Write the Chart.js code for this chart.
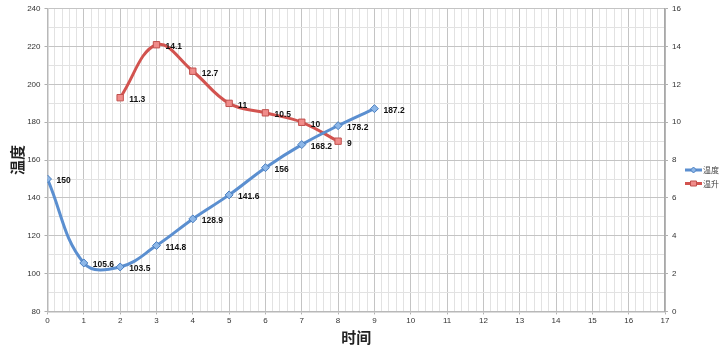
<!DOCTYPE html>
<html>
<head>
<meta charset="utf-8">
<script src="https://cdn.jsdelivr.net/npm/chart.js@4/dist/chart.umd.min.js"></script>
<style>
html,body{margin:0;padding:0;background:#fff;}
#wrap{width:727px;height:355px;}
</style>
</head>
<body>
<div id="wrap"><canvas id="c" width="727" height="355"></canvas></div>
<script>
const tempX = [0, 1, 2, 3, 4, 5, 6, 7, 8, 9];
const tempValues = [150, 105.6, 103.5, 114.8, 128.9, 141.6, 156, 168.2, 178.2, 187.2];
const riseX = [2, 3, 4, 5, 6, 7, 8];
const riseValues = [11.3, 14.1, 12.7, 11, 10.5, 10, 9];
const seriesNames = ['温度', '温升'];
const xTitle = '时间';
const yTitle = '温度';

const blue = '#5b8fd0';
const red = '#d2534f';
const FONT = '"Liberation Sans", Arial, sans-serif';
const CJK = '"Noto Sans CJK SC", sans-serif';

function isMult(v, m) { const r = v / m; return Math.abs(r - Math.round(r)) < 1e-6; }

const labelPlugin = {
  id: 'pointLabels',
  afterDatasetsDraw(chart) {
    const ctx = chart.ctx;
    ctx.save();
    ctx.font = 'bold 8.5px ' + FONT;
    ctx.fillStyle = '#111';
    ctx.textAlign = 'left';
    ctx.textBaseline = 'middle';
    chart.data.datasets.forEach((ds, i) => {
      const meta = chart.getDatasetMeta(i);
      meta.data.forEach((pt, j) => {
        ctx.fillText(String(ds.data[j].y), pt.x + 9, pt.y + 2);
      });
    });
    ctx.restore();
  }
};

const legendPlugin = {
  id: 'customLegend',
  afterDraw(chart) {
    const ctx = chart.ctx;
    ctx.save();
    const items = [
      {name: seriesNames[0], color: blue, fill: '#8db7e8', edge: '#4a7fc0', shape: 'diamond', y: 170},
      {name: seriesNames[1], color: red, fill: '#f08c8a', edge: '#c0504d', shape: 'square', y: 183.5}
    ];
    items.forEach(it => {
      ctx.strokeStyle = it.color;
      ctx.lineWidth = 3;
      ctx.beginPath(); ctx.moveTo(685, it.y); ctx.lineTo(702, it.y); ctx.stroke();
      ctx.fillStyle = it.fill; ctx.strokeStyle = it.edge; ctx.lineWidth = 1;
      ctx.beginPath();
      if (it.shape === 'diamond') {
        ctx.moveTo(693.5, it.y - 3); ctx.lineTo(696.5, it.y); ctx.lineTo(693.5, it.y + 3); ctx.lineTo(690.5, it.y); ctx.closePath();
      } else {
        ctx.rect(690.5, it.y - 2.5, 6, 5);
      }
      ctx.fill(); ctx.stroke();
      ctx.fillStyle = '#444';
      ctx.font = '8px ' + CJK;
      ctx.textAlign = 'left';
      ctx.textBaseline = 'middle';
      ctx.fillText(it.name, 703, it.y);
    });
    ctx.restore();
  }
};

new Chart(document.getElementById('c'), {
  type: 'line',
  data: {
    datasets: [
      {
        label: seriesNames[0],
        data: tempX.map((x, i) => ({x, y: tempValues[i]})),
        yAxisID: 'y',
        borderColor: blue,
        borderWidth: 3,
        tension: 0.4,
        pointStyle: 'rectRot',
        pointRadius: 4,
        pointBackgroundColor: '#8db7e8',
        pointBorderColor: '#4a7fc0',
        pointBorderWidth: 1
      },
      {
        label: seriesNames[1],
        data: riseX.map((x, i) => ({x, y: riseValues[i]})),
        yAxisID: 'y1',
        borderColor: red,
        borderWidth: 3,
        tension: 0.4,
        pointStyle: 'rect',
        pointRadius: 4.5,
        pointBackgroundColor: '#f08c8a',
        pointBorderColor: '#c0504d',
        pointBorderWidth: 1
      }
    ]
  },
  options: {
    responsive: false,
    animation: false,
    layout: {padding: {top: 1.5, right: 0, bottom: 9, left: 8}},
    plugins: {legend: {display: false}, tooltip: {enabled: false}},
    scales: {
      x: {
        type: 'linear',
        min: 0, max: 17,
        ticks: {
          stepSize: 0.2, autoSkip: false, maxRotation: 0, padding: 2,
          color: '#333', font: {size: 8, family: FONT},
          callback: v => isMult(v, 1) ? String(Math.round(v)) : ''
        },
        grid: {
          color: c => (c.tick && isMult(c.tick.value, 1)) ? '#c4c4c4' : '#e2e2e2',
          lineWidth: 1,
          tickLength: 3,
          tickColor: c => (c.tick && isMult(c.tick.value, 1)) ? '#b0b0b0' : 'rgba(0,0,0,0)'
        },
        border: {color: '#b8b8b8', width: 1.5},
        title: {display: true, text: xTitle, color: '#222', font: {size: 15, weight: 'bold', family: CJK}, padding: {top: 0, bottom: 0}}
      },
      y: {
        position: 'left',
        min: 80, max: 240,
        ticks: {
          stepSize: 10, autoSkip: false, padding: 4,
          color: '#333', font: {size: 8, family: FONT},
          callback: v => isMult(v, 20) ? String(v) : ''
        },
        grid: {
          color: c => (c.tick && isMult(c.tick.value, 20)) ? '#c4c4c4' : '#e2e2e2',
          lineWidth: 1,
          tickLength: 3,
          tickColor: c => (c.tick && isMult(c.tick.value, 20)) ? '#b0b0b0' : 'rgba(0,0,0,0)'
        },
        border: {color: '#b8b8b8', width: 1.5},
        title: {display: true, text: yTitle, color: '#222', font: {size: 15, weight: 'bold', family: CJK}, padding: {top: 0, bottom: 0}},
        afterFit: s => { s.width = 39.5; }
      },
      y1: {
        position: 'right',
        min: 0, max: 16,
        ticks: {
          stepSize: 2, padding: 4,
          color: '#333', font: {size: 8, family: FONT}
        },
        grid: {drawOnChartArea: false, tickLength: 3, tickColor: '#b0b0b0'},
        border: {color: '#a8a8a8', width: 1.5},
        afterFit: s => { s.width = 62; }
      }
    }
  },
  plugins: [labelPlugin, legendPlugin]
});
</script>
</body>
</html>
